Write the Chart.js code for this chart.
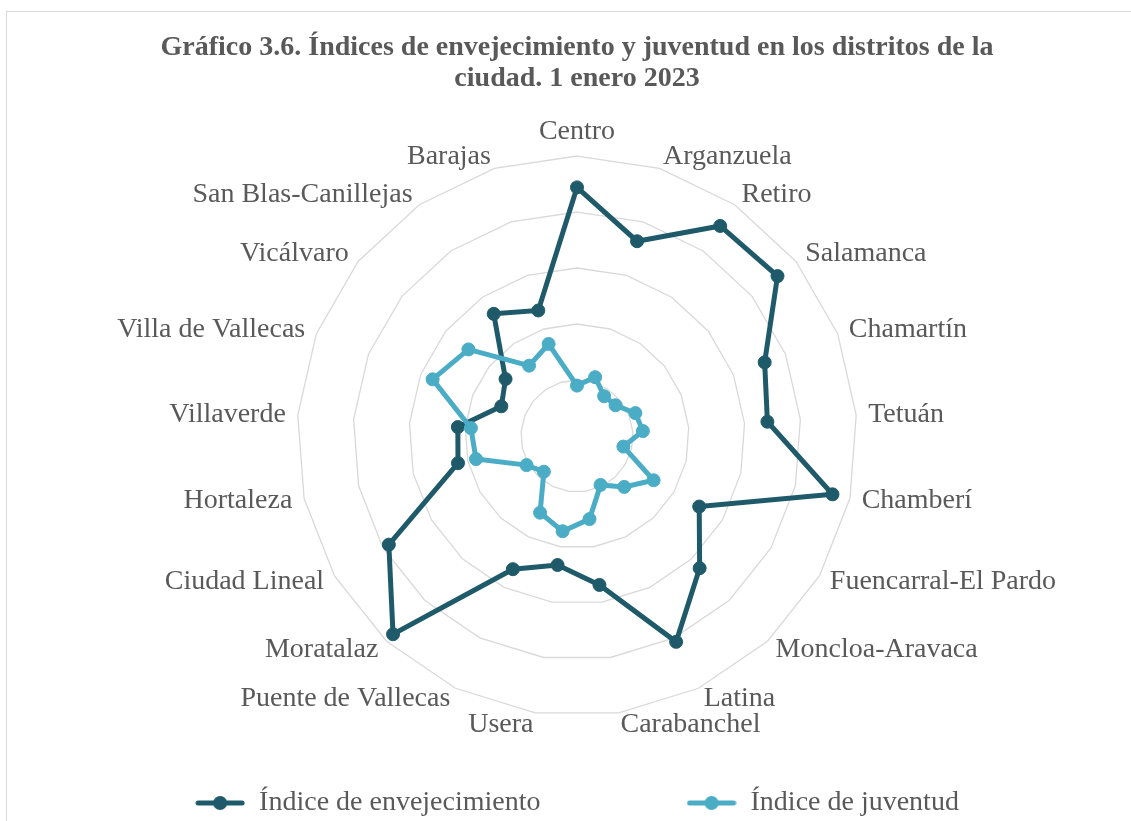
<!DOCTYPE html>
<html lang="es">
<head>
<meta charset="UTF-8">
<title>Gráfico 3.6. Índices de envejecimiento y juventud</title>
<script src="https://cdn.jsdelivr.net/npm/chart.js"></script>
<style>
  html, body { margin: 0; padding: 0; overflow: hidden; background: #fff; }
  #marco { position: absolute; left: 6px; top: 11px; width: 1140px; height: 830px;
           border-left: 1px solid #d9d9d9; border-top: 1px solid #d9d9d9; }
  #radar { display: block; }
</style>
</head>
<body>
<div id="marco"><canvas id="radar" width="1132" height="815"></canvas></div>

<script>
  const titulo = ['Gráfico 3.6. Índices de envejecimiento y juventud en los distritos de la',
                  'ciudad. 1 enero 2023'];

  const distritos = ['Centro', 'Arganzuela', 'Retiro', 'Salamanca', 'Chamartín', 'Tetuán',
    'Chamberí', 'Fuencarral-El Pardo', 'Moncloa-Aravaca', 'Latina', 'Carabanchel', 'Usera',
    'Puente de Vallecas', 'Moratalaz', 'Ciudad Lineal', 'Hortaleza', 'Villaverde',
    'Villa de Vallecas', 'Vicálvaro', 'San Blas-Canillejas', 'Barajas'];

  const envejecimiento = [222, 182, 227, 229, 180, 170.5, 234, 126, 161, 204, 134.5, 116.5,
    132, 241.5, 194, 109, 106.7, 72.6, 81.6, 132, 117.3];

  const juventud = [45, 55, 43, 44, 56, 59, 42.5, 79, 62, 48.5, 75, 86,
    76, 43.5, 52, 92.5, 95, 138.5, 124, 76, 86];

  const escalaMin = 0;
  const escalaMax = 250;
  const escalaPaso = 50;

  const oscuro = '#1f5a6a';
  const claro = '#4bacc6';
  const gris = '#595959';

  function marcador(color) {
    const c = document.createElement('canvas');
    c.width = 50;
    c.height = 16;
    const g = c.getContext('2d');
    g.strokeStyle = color;
    g.lineWidth = 5;
    g.lineCap = 'round';
    g.beginPath();
    g.moveTo(3, 8);
    g.lineTo(47, 8);
    g.stroke();
    g.fillStyle = color;
    g.beginPath();
    g.arc(25, 8, 7, 0, Math.PI * 2);
    g.fill();
    return c;
  }
  const marcadores = [marcador(oscuro), marcador(claro)];

  Chart.defaults.font.family = "'Liberation Serif', 'Times New Roman', serif";
  Chart.defaults.color = gris;

  new Chart(document.getElementById('radar'), {
    type: 'radar',
    data: {
      labels: distritos,
      datasets: [
        {
          label: 'Índice de envejecimiento',
          data: envejecimiento,
          borderColor: oscuro,
          backgroundColor: oscuro,
          pointBackgroundColor: oscuro,
          pointBorderColor: oscuro,
          borderWidth: 5,
          pointRadius: 6.5,
          pointBorderWidth: 1,
          fill: false,
          order: 1
        },
        {
          label: 'Índice de juventud',
          data: juventud,
          borderColor: claro,
          backgroundColor: claro,
          pointBackgroundColor: claro,
          pointBorderColor: claro,
          borderWidth: 5,
          pointRadius: 6.5,
          pointBorderWidth: 1,
          fill: false,
          order: 0
        }
      ]
    },
    options: {
      responsive: false,
      animation: false,
      devicePixelRatio: 1,
      layout: { padding: { left: 8, right: 0, top: 0, bottom: 0 } },
      elements: { line: { tension: 0 } },
      plugins: {
        title: {
          display: true,
          text: titulo,
          color: gris,
          font: { size: 28, weight: 'bold', lineHeight: 1.116 },
          padding: { top: 20, bottom: 29 }
        },
        legend: {
          position: 'bottom',
          labels: {
            usePointStyle: true,
            pointStyleWidth: 50,
            padding: 55,
            color: gris,
            font: { size: 28 },
            sort: (a, b) => a.datasetIndex - b.datasetIndex,
            generateLabels: chart => Chart.defaults.plugins.legend.labels.generateLabels(chart).map(item => {
              item.pointStyle = marcadores[item.datasetIndex];
              if (item.datasetIndex === 0) item.text += ' '.repeat(13);
              return item;
            })
          }
        },
        tooltip: { enabled: false }
      },
      scales: {
        r: {
          min: escalaMin,
          max: escalaMax,
          ticks: { stepSize: escalaPaso, display: false },
          angleLines: { display: false },
          grid: { color: '#d9d9d9', lineWidth: 1.3 },
          pointLabels: {
            color: gris,
            // etiquetas centradas verticalmente sobre su radio, como en el original
            font: { size: 28, lineHeight: 0.001 },
            padding: ctx => (ctx.index === 0 ? 24.5 : 12)
          }
        }
      }
    }
  });
</script>
</body>
</html>
